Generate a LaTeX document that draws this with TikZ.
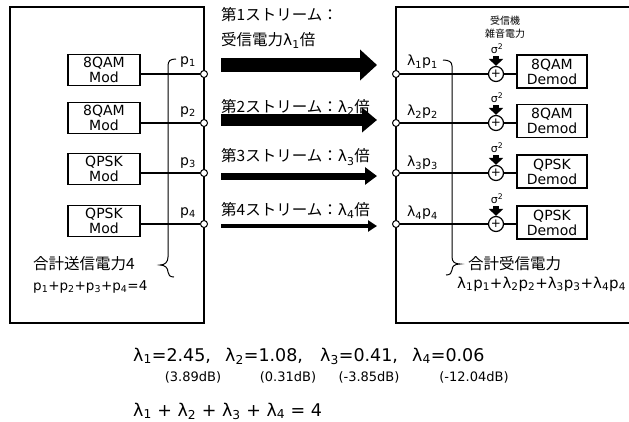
\documentclass[tikz,border=0pt]{standalone}
\usepackage{fontspec}
\setmainfont{DejaVu Sans}
\newfontfamily\jpfont{Noto Sans CJK JP}
\usetikzlibrary{arrows.meta}
\tikzset{
  frame/.style={line width=1.6pt},
  wire/.style={line width=1.5pt},
  modbox/.style={draw,line width=1.5pt,minimum width=72pt,minimum height=31pt,inner sep=0pt,align=center,font=\fontsize{14}{15}\selectfont},
  port/.style={draw,circle,fill=white,line width=1pt,minimum size=7pt,inner sep=0pt},
  adder/.style={draw,circle,fill=white,line width=1.2pt,minimum size=15pt,inner sep=0pt,font=\fontsize{12}{12}\selectfont},
  noise/.style={line width=6pt,-{Triangle[length=7pt 0 0,width=14pt 0 0]}},
  brace/.style={line width=1pt},
  jp/.style={inner sep=0pt,font=\fontsize{15.5}{25}\selectfont\jpfont},
  lat/.style={inner sep=0pt,font=\fontsize{14}{16}\selectfont},
  big/.style={inner sep=0pt,anchor=base west,font=\fontsize{17.5}{19}\selectfont},
  db/.style={inner sep=0pt,font=\fontsize{13}{14}\selectfont},
}
\begin{document}
\begin{tikzpicture}[x=1pt,y=-1pt]
\useasboundingbox (0,0) rectangle (629,421);
%送信機
\draw[frame] (10,7) rectangle (204,323);
%受信機
\draw[frame] (640,7) -- (396,7) -- (396,323) -- (640,323);

%変調器
\node[modbox] (m1) at (104,70) {8QAM\\Mod};
\node[modbox] (m2) at (104,118) {8QAM\\Mod};
\node[modbox] (m3) at (104,169) {QPSK\\Mod};
\node[modbox] (m4) at (104,221) {QPSK\\Mod};
%復調器
\node[modbox,minimum width=70pt,minimum height=33pt] (d1) at (552,71.5) {8QAM\\Demod};
\node[modbox,minimum width=70pt,minimum height=33pt] (d2) at (552,121) {8QAM\\Demod};
\node[modbox,minimum width=70pt,minimum height=33pt] (d3) at (552,171.5) {QPSK\\Demod};
\node[modbox,minimum width=70pt,minimum height=33pt] (d4) at (552,222.5) {QPSK\\Demod};

%ポート・加算器
\foreach \i/\y in {1/74,2/123,3/173,4/224}{
  \node[port] (t\i) at (204,\y) {};
  \node[port] (r\i) at (396,\y) {};
  \node[adder] (a\i) at (496,\y) {+};
  \coordinate (n\i) at (496,\y-18);
  \node[inner sep=0pt,font=\fontsize{11}{11}\selectfont] (sg\i) at (497,\y-25) {σ\textsuperscript{2}};
  \draw[wire] (m\i.east |- t\i) -- (t\i);
  \draw[wire] (r\i) -- (a\i);
  \draw[wire] (a\i) -- (d\i.west |- a\i);
  \draw[noise] (n\i) -- (a\i);
}

%送信電力
\node[lat] (p1) at (188,62) {p\textsubscript{1}};
\node[lat] (p2) at (188,112) {p\textsubscript{2}};
\node[lat] (p3) at (188,163) {p\textsubscript{3}};
\node[lat] (p4) at (188,213) {p\textsubscript{4}};
\draw[brace] (176,59) .. controls (170,59) and (168,61) .. (168,66) -- (168,257)
  .. controls (168,262) and (165,265) .. (160,265)
  .. controls (165,265) and (168,268) .. (168,272)
  .. controls (168,275) and (170,277) .. (174,277);
\node[jp,anchor=west] (txsum) at (33,264) {合計送信電力4};
\node[lat,anchor=west,font=\fontsize{13.5}{16}\selectfont] (txeq) at (33,287) {p\textsubscript{1}+p\textsubscript{2}+p\textsubscript{3}+p\textsubscript{4}=4};

%受信電力
\node[lat,anchor=west] (q1) at (407,62) {λ\textsubscript{1}p\textsubscript{1}};
\node[lat,anchor=west] (q2) at (407,112) {λ\textsubscript{2}p\textsubscript{2}};
\node[lat,anchor=west] (q3) at (407,163) {λ\textsubscript{3}p\textsubscript{3}};
\node[lat,anchor=west] (q4) at (407,213) {λ\textsubscript{4}p\textsubscript{4}};
\draw[brace] (443,60) .. controls (449,60) and (452,62) .. (452,66) -- (452,257)
  .. controls (452,262) and (455,264) .. (460,264)
  .. controls (455,264) and (452,266) .. (452,270)
  .. controls (452,273) and (450,275) .. (446,275);
\node[jp,anchor=west] (rxsum) at (468,264) {合計受信電力};
\node[lat,anchor=west,font=\fontsize{15}{16}\selectfont] (rxeq) at (457,284) {λ\textsubscript{1}p\textsubscript{1}+λ\textsubscript{2}p\textsubscript{2}+λ\textsubscript{3}p\textsubscript{3}+λ\textsubscript{4}p\textsubscript{4}};
\node[inner sep=0pt,align=center,font=\fontsize{10}{13}\selectfont\jpfont] (noisetxt) at (505,27) {受信機\\雑音電力};

%ストリーム
\coordinate (s1a) at (221,65);  \coordinate (s1b) at (377,65);
\coordinate (s2a) at (221,120); \coordinate (s2b) at (377,120);
\coordinate (s3a) at (221,176); \coordinate (s3b) at (377,176);
\coordinate (s4a) at (221,226); \coordinate (s4b) at (377,226);
\draw[line width=14pt,-{Triangle[length=17pt 0 0,width=30pt 0 0]}] (s1a) -- (s1b);
\draw[line width=12pt,-{Triangle[length=15pt 0 0,width=24pt 0 0]}] (s2a) -- (s2b);
\draw[line width=7pt,-{Triangle[length=12pt 0 0,width=17pt 0 0]}] (s3a) -- (s3b);
\draw[line width=4pt,-{Triangle[length=9pt 0 0,width=11pt 0 0]}] (s4a) -- (s4b);
\node[jp,anchor=west,align=left] (st1) at (221,27.5) {第1ストリーム：\\受信電力{\rmfamily λ\textsubscript{1}}倍};
\node[jp,anchor=west] (st2) at (221,107) {第2ストリーム：{\rmfamily λ\textsubscript{2}}倍};
\node[jp,anchor=west] (st3) at (221,157) {第3ストリーム：{\rmfamily λ\textsubscript{3}}倍};
\node[jp,anchor=west] (st4) at (221,210) {第4ストリーム：{\rmfamily λ\textsubscript{4}}倍};

%λの値
\node[big] (l1) at (133,361) {λ\textsubscript{1}=2.45,};
\node[big] (l2) at (225,361) {λ\textsubscript{2}=1.08,};
\node[big] (l3) at (320,361) {λ\textsubscript{3}=0.41,};
\node[big] (l4) at (412,361) {λ\textsubscript{4}=0.06};
\node[db] (db1) at (193,377) {(3.89dB)};
\node[db] (db2) at (288,377) {(0.31dB)};
\node[db] (db3) at (369,377) {(-3.85dB)};
\node[db] (db4) at (474,377) {(-12.04dB)};
\node[big] (lsum) at (133,416) {λ\textsubscript{1} + λ\textsubscript{2} + λ\textsubscript{3} + λ\textsubscript{4} = 4};
\end{tikzpicture}
\end{document}
